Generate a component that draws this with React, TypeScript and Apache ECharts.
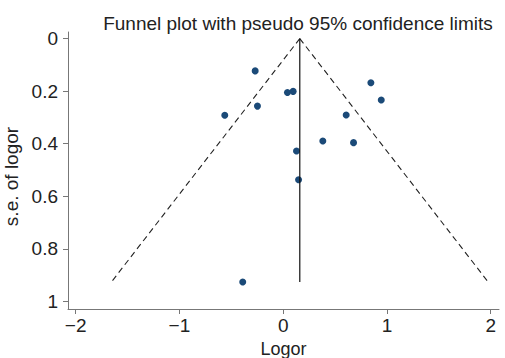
import React, { useEffect, useRef } from "react";
import * as echarts from "echarts";

const logor: number[] = [-0.27, 0.041, 0.096, -0.248, -0.563, 0.845, 0.945, 0.607, 0.382, 0.678, 0.128, 0.148, -0.39];
const seLogor: number[] = [0.123, 0.205, 0.201, 0.257, 0.292, 0.168, 0.234, 0.291, 0.39, 0.396, 0.428, 0.537, 0.926];
const pooled = 0.16;
const maxSe = 0.926;
const z = 1.96;
const xTicks: number[] = [-2, -1, 0, 1, 2];
const yTicks: number[] = [0, 0.2, 0.4, 0.6, 0.8, 1];

export default function App() {
  const ref = useRef<HTMLDivElement>(null);
  useEffect(() => {
    if (!ref.current) return;
    const chart = echarts.init(ref.current, undefined, { renderer: "svg" });
    const font = "'Liberation Sans', Arial, Helvetica, sans-serif";
    const axisColor = "#777777";
    const textColor = "#222222";
    const leftLine = [[pooled, 0], [pooled - z * maxSe, maxSe]];
    const rightLine = [[pooled, 0], [pooled + z * maxSe, maxSe]];
    const vLine = [[pooled, 0], [pooled, maxSe]];
    chart.setOption({
      animation: false,
      backgroundColor: "#ffffff",
      title: {
        text: "Funnel plot with pseudo 95% confidence limits",
        left: 293,
        top: 9,
        textAlign: "center",
        textStyle: { fontFamily: font, fontSize: 19, fontWeight: "normal", color: textColor },
      },
      grid: { left: 68, right: 6, top: 32, bottom: 49, outerBoundsMode: "none", containLabel: false },
      xAxis: {
        type: "value",
        position: "bottom",
        min: -2.074,
        max: 2.08,
        name: "Logor",
        nameLocation: "middle",
        nameGap: 19,
        nameTextStyle: { fontFamily: font, fontSize: 18, color: textColor },
        axisLine: { show: true, onZero: false, lineStyle: { color: axisColor, width: 1 } },
        axisTick: { show: true, length: 5, lineStyle: { color: axisColor }, customValues: xTicks },
        axisLabel: {
          fontFamily: font,
          fontSize: 19,
          color: textColor,
          margin: 7,
          customValues: xTicks,
          formatter: (v: number) => (v < 0 ? "\u2212" + Math.abs(v) : String(v)),
        },
        splitLine: { show: false },
      } as any,
      yAxis: {
        type: "value",
        position: "left",
        inverse: true,
        min: -0.025,
        max: 1.029,
        name: "s.e. of logor",
        nameLocation: "middle",
        nameGap: 34,
        nameRotate: 90,
        nameTextStyle: { fontFamily: font, fontSize: 19, color: textColor, padding: [0, 12, 0, 0] },
        axisLine: { show: true, onZero: false, lineStyle: { color: axisColor, width: 1 } },
        axisTick: { show: true, length: 5, lineStyle: { color: axisColor }, customValues: yTicks },
        axisLabel: {
          fontFamily: font,
          fontSize: 19,
          color: textColor,
          margin: 10,
          customValues: yTicks,
          formatter: (v: number) => String(v),
        },
        splitLine: { show: false },
      } as any,
      series: [
        {
          type: "line",
          data: leftLine,
          symbol: "none",
          lineStyle: { color: "#222222", width: 1.1, type: [6, 4] },
          silent: true,
        },
        {
          type: "line",
          data: rightLine,
          symbol: "none",
          lineStyle: { color: "#222222", width: 1.1, type: [6, 4] },
          silent: true,
        },
        {
          type: "line",
          data: vLine,
          symbol: "none",
          lineStyle: { color: "#111111", width: 1.2 },
          silent: true,
        },
        {
          type: "scatter",
          data: logor.map((x, i) => [x, seLogor[i]]),
          symbolSize: 7,
          itemStyle: { color: "#1b4a78", opacity: 1 },
        },
      ],
    });
    return () => chart.dispose();
  }, []);
  return <div ref={ref} style={{ width: 505, height: 358, position: "absolute", left: 0, top: 0 }} />;
}
